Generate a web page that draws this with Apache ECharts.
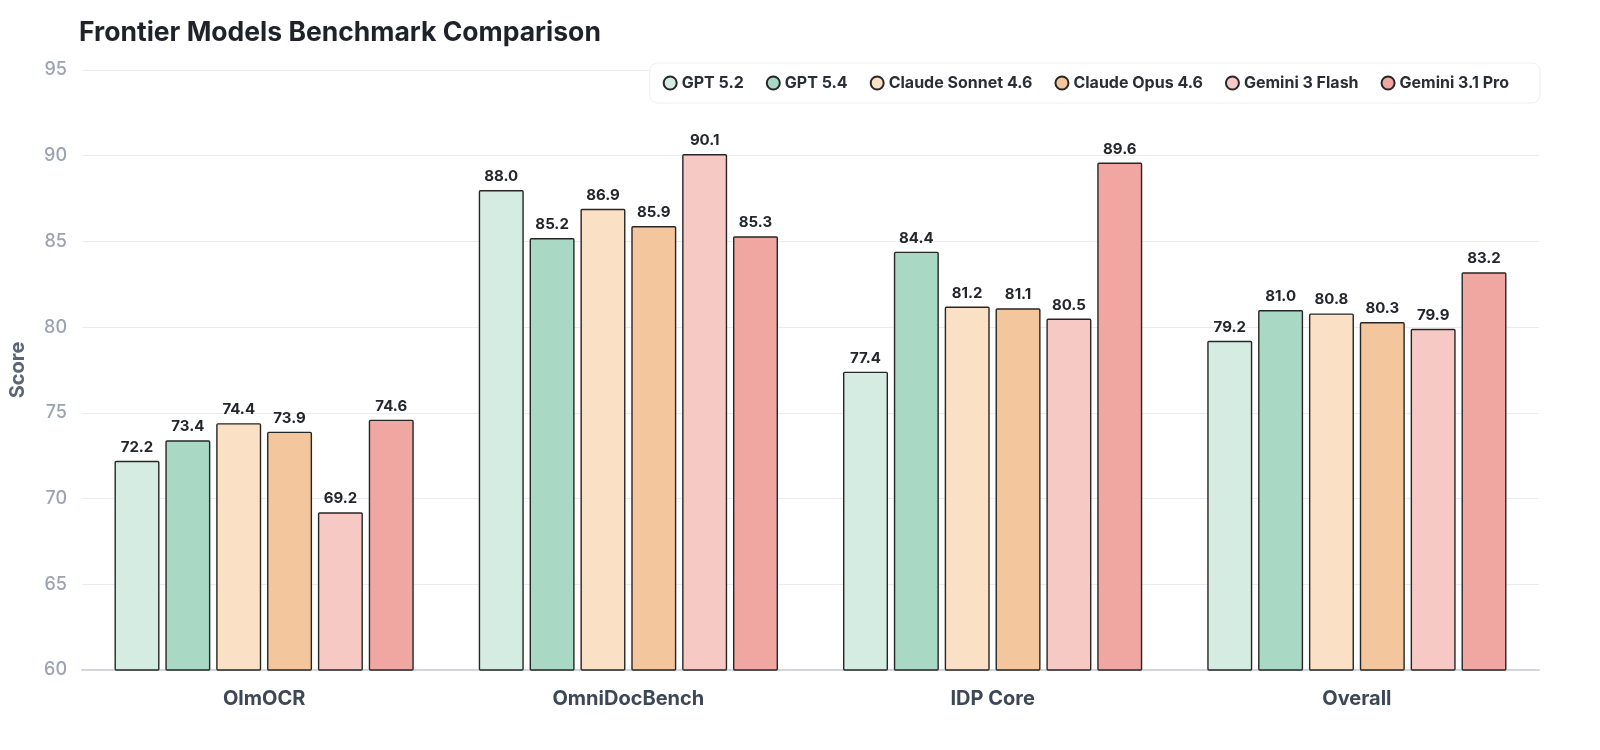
<!DOCTYPE html>
<html><head><meta charset="utf-8">
<script src="https://cdn.jsdelivr.net/npm/echarts@6/dist/echarts.min.js"></script>
<style>html,body{margin:0;padding:0;background:#fff}#c{width:1600px;height:750px}</style>
</head><body><div id="c"></div>
<script>
const categories = ['OlmOCR', 'OmniDocBench', 'IDP Core', 'Overall'];
const models = ['GPT 5.2', 'GPT 5.4', 'Claude Sonnet 4.6', 'Claude Opus 4.6', 'Gemini 3 Flash', 'Gemini 3.1 Pro'];
const gpt52 = [72.2, 88.0, 77.4, 79.2];
const gpt54 = [73.4, 85.2, 84.4, 81.0];
const sonnet46 = [74.4, 86.9, 81.2, 80.8];
const opus46 = [73.9, 85.9, 81.1, 80.3];
const flash3 = [69.2, 90.1, 80.5, 79.9];
const pro31 = [74.6, 85.3, 89.6, 83.2];
const colors = ['#d5ece2', '#a9d8c5', '#fae0c4', '#f4c69d', '#f7c9c4', '#f0a7a1'];
const seriesData = [gpt52, gpt54, sonnet46, opus46, flash3, pro31];

const chart = echarts.init(document.getElementById('c'));
chart.setOption({
  animation: false,
  textStyle: { fontFamily: 'Inter, Roboto, sans-serif' },
  title: {
    text: 'Frontier Models Benchmark Comparison',
    left: 74, top: 15,
    textStyle: { fontSize: 26.5, fontWeight: 'bold', color: '#1f2329', fontFamily: 'Inter, sans-serif' }
  },
  legend: {
    data: models,
    right: 60, top: 63,
    padding: [12, 31, 12, 13],
    itemGap: 22,
    itemWidth: 13, itemHeight: 13,
    icon: 'circle',
    borderColor: '#eceef1', borderWidth: 1, borderRadius: 8,
    backgroundColor: '#fff',
    textStyle: { fontSize: 16, fontWeight: 'bold', color: '#2a2f36' }
  },
  grid: { left: 78, right: 61, top: 70, bottom: 80 },
  xAxis: {
    type: 'category',
    data: categories,
    axisLine: { lineStyle: { color: '#d3d6db', width: 2 } },
    axisTick: { show: false },
    axisLabel: { fontSize: 20, fontWeight: 'bold', color: '#3d4756', margin: 19 }
  },
  yAxis: {
    type: 'value',
    min: 60, max: 95, interval: 5,
    name: 'Score',
    nameLocation: 'middle',
    nameGap: 54,
    nameTextStyle: { fontSize: 20, fontWeight: 'bold', color: '#5b6576' },
    axisLine: { show: false },
    axisTick: { show: false },
    axisLabel: { fontSize: 18, fontWeight: 500, color: '#9ba3b0', margin: 15 },
    splitLine: { lineStyle: { color: '#e9ebee', width: 1 } }
  },
  series: models.map((m, i) => ({
    name: m,
    type: 'bar',
    data: seriesData[i],
    barWidth: 45,
    barGap: '13%',
    itemStyle: { color: colors[i], borderColor: '#262626', borderWidth: 1.4, borderRadius: 1 },
    label: {
      show: true, position: 'top', distance: 6,
      formatter: p => p.value.toFixed(1),
      fontSize: 15, fontWeight: 'bold', color: '#23262b'
    }
  }))
});
</script></body></html>
